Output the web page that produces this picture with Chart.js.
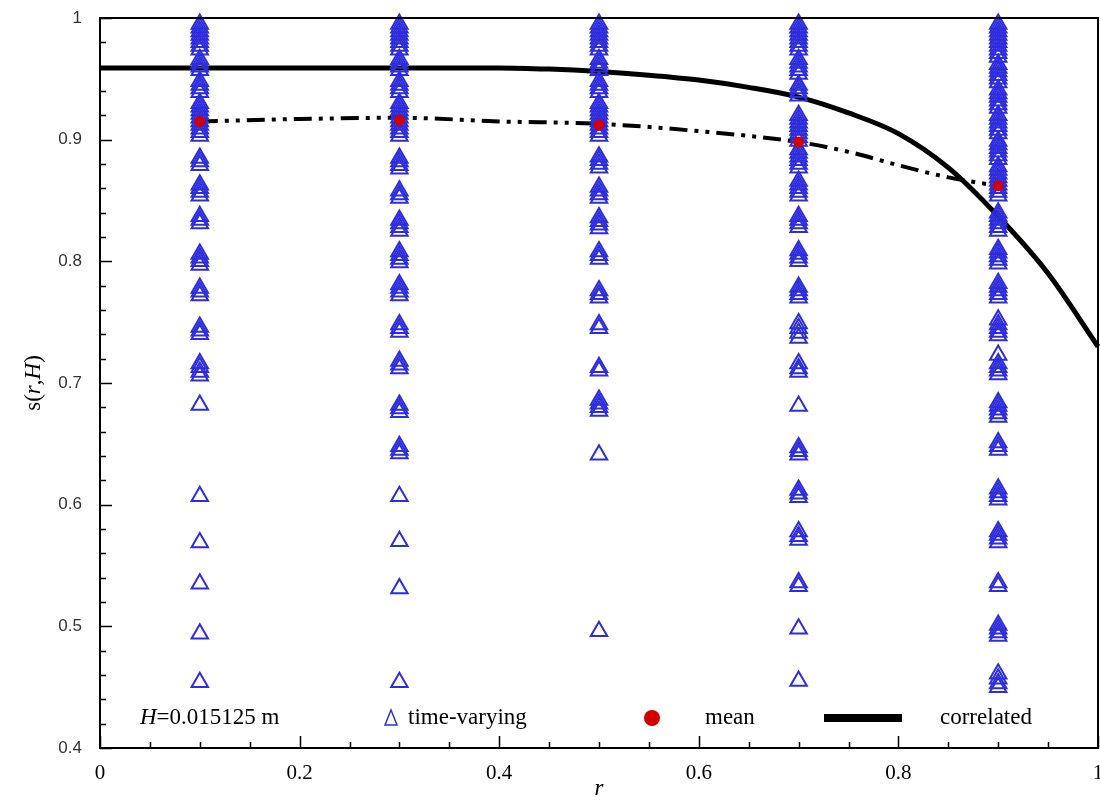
<!DOCTYPE html>
<html>
<head>
<meta charset="utf-8">
<script src="https://cdn.jsdelivr.net/npm/chart.js@4/dist/chart.umd.min.js"></script>
<style>
  html, body { margin: 0; padding: 0; background: #fff; }
  #wrap { width: 1100px; height: 800px; }
</style>
</head>
<body>
<div id="wrap"><canvas id="chart" width="1100" height="800"></canvas></div>
<script>
// radial positions where the time-varying samples were taken
const rColumns = [0.1, 0.3, 0.5, 0.7, 0.9];

// time-varying s(r,H) values, one list per column
const sAt01 = [0.995, 0.992, 0.989, 0.986, 0.983, 0.980, 0.977, 0.974, 0.966, 0.963, 0.960, 0.957,
  0.948, 0.945, 0.942, 0.939, 0.930, 0.927, 0.924, 0.921, 0.918, 0.915, 0.912, 0.909, 0.906, 0.903,
  0.885, 0.882, 0.879, 0.863, 0.860, 0.857, 0.854, 0.837, 0.834, 0.831, 0.806, 0.803, 0.800, 0.797,
  0.778, 0.775, 0.772, 0.746, 0.743, 0.740, 0.716, 0.713, 0.709, 0.706, 0.682, 0.607, 0.569, 0.535,
  0.494, 0.454];
const sAt03 = [0.995, 0.992, 0.989, 0.986, 0.983, 0.980, 0.977, 0.974, 0.966, 0.963, 0.960, 0.957,
  0.948, 0.945, 0.942, 0.939, 0.930, 0.927, 0.924, 0.921, 0.918, 0.915, 0.912, 0.909, 0.906, 0.903,
  0.885, 0.882, 0.879, 0.876, 0.858, 0.855, 0.852, 0.834, 0.831, 0.828, 0.825, 0.808, 0.805, 0.802,
  0.799, 0.781, 0.778, 0.775, 0.772, 0.748, 0.745, 0.742, 0.718, 0.715, 0.712, 0.682, 0.679, 0.676,
  0.648, 0.645, 0.642, 0.607, 0.570, 0.531, 0.454];
const sAt05 = [0.995, 0.992, 0.989, 0.986, 0.983, 0.980, 0.977, 0.974, 0.966, 0.963, 0.960, 0.957,
  0.948, 0.945, 0.942, 0.939, 0.930, 0.927, 0.924, 0.921, 0.918, 0.915, 0.912, 0.909, 0.906, 0.903,
  0.886, 0.883, 0.880, 0.877, 0.861, 0.858, 0.855, 0.852, 0.836, 0.833, 0.830, 0.827, 0.808, 0.805,
  0.802, 0.776, 0.773, 0.770, 0.748, 0.745, 0.713, 0.710, 0.686, 0.683, 0.680, 0.677, 0.641, 0.496];
const sAt07 = [0.995, 0.992, 0.989, 0.986, 0.983, 0.980, 0.977, 0.974, 0.966, 0.963, 0.960, 0.957,
  0.954, 0.945, 0.942, 0.939, 0.936, 0.920, 0.917, 0.914, 0.911, 0.908, 0.905, 0.902, 0.899, 0.892,
  0.889, 0.886, 0.883, 0.880, 0.877, 0.866, 0.863, 0.860, 0.857, 0.854, 0.837, 0.834, 0.831, 0.828,
  0.809, 0.806, 0.803, 0.800, 0.779, 0.776, 0.773, 0.770, 0.749, 0.745, 0.741, 0.737, 0.716, 0.712,
  0.709, 0.681, 0.647, 0.644, 0.641, 0.612, 0.609, 0.606, 0.578, 0.574, 0.571, 0.536, 0.533, 0.498,
  0.455];
const sAt09 = [0.995, 0.992, 0.989, 0.986, 0.983, 0.980, 0.977, 0.974, 0.971, 0.968, 0.962, 0.959,
  0.956, 0.953, 0.950, 0.947, 0.941, 0.938, 0.935, 0.932, 0.929, 0.926, 0.920, 0.917, 0.914, 0.911,
  0.908, 0.905, 0.899, 0.896, 0.893, 0.890, 0.887, 0.884, 0.878, 0.875, 0.872, 0.869, 0.866, 0.863,
  0.860, 0.857, 0.854, 0.840, 0.837, 0.834, 0.831, 0.828, 0.825, 0.810, 0.807, 0.804, 0.801, 0.798,
  0.782, 0.779, 0.776, 0.773, 0.770, 0.752, 0.748, 0.745, 0.742, 0.739, 0.723, 0.716, 0.713, 0.710,
  0.707, 0.684, 0.681, 0.678, 0.675, 0.672, 0.651, 0.648, 0.645, 0.613, 0.610, 0.607, 0.604, 0.578,
  0.575, 0.572, 0.569, 0.536, 0.533, 0.501, 0.498, 0.495, 0.492, 0.461, 0.457, 0.453, 0.450];
const timeVarying = [sAt01, sAt03, sAt05, sAt07, sAt09];

// time-averaged values at each column
const meanS = [0.915, 0.916, 0.912, 0.898, 0.862];

// dash-dot curve through the means
const meanCurveR = [0.1, 0.2, 0.3, 0.4, 0.5, 0.6, 0.7, 0.75, 0.8, 0.85, 0.9];
const meanCurveS = [0.915, 0.917, 0.918, 0.915, 0.913, 0.907, 0.898, 0.890, 0.879, 0.869, 0.862];

// correlated profile
const corrR = [0, 0.05, 0.1, 0.15, 0.2, 0.25, 0.3, 0.35, 0.4, 0.45, 0.5, 0.55, 0.6, 0.65, 0.7, 0.75, 0.8, 0.85, 0.9, 0.95, 1.0];
const corrS = [0.959, 0.959, 0.959, 0.959, 0.959, 0.959, 0.959, 0.959, 0.959, 0.958, 0.956, 0.953, 0.949,
  0.943, 0.935, 0.922, 0.905, 0.877, 0.837, 0.790, 0.730];

// axis ticks
const xTicks = [0, 0.2, 0.4, 0.6, 0.8, 1];
const xTickLabels = ['0', '0.2', '0.4', '0.6', '0.8', '1'];
const yTicks = [0.4, 0.5, 0.6, 0.7, 0.8, 0.9, 1];
const yTickLabels = ['0.4', '0.5', '0.6', '0.7', '0.8', '0.9', '1'];

const BLUE = 'rgb(45, 45, 220)';
const RED = 'rgb(210, 0, 0)';
const PLOT_RIGHT = 1098;

const tvPoints = [];
timeVarying.forEach((col, i) => col.forEach(v => tvPoints.push({ x: rColumns[i], y: v })));

// stretch the plot area to the right edge (Chart.js keeps room for the "1" label)
const stretchPlugin = {
  id: 'stretch',
  afterLayout(chart) {
    const x = chart.scales.x;
    x.right = PLOT_RIGHT;
    x.width = x.right - x.left;
    x.configure();
    chart.chartArea.right = PLOT_RIGHT;
    chart.chartArea.width = PLOT_RIGHT - chart.chartArea.left;
  }
};

// inward ticks + frame, like the original plotting package
const framePlugin = {
  id: 'frame',
  afterDatasetsDraw(chart) {
    const { ctx, chartArea: a, scales: { x, y } } = chart;
    ctx.save();
    ctx.strokeStyle = '#000';
    ctx.lineWidth = 1.5;
    ctx.beginPath();
    for (let v = 0; v <= 1.0001; v += 0.05) {
      const px = Math.round(x.getPixelForValue(v)) + 0.5;
      const major = Math.abs(v / 0.2 - Math.round(v / 0.2)) < 1e-6;
      ctx.moveTo(px, a.bottom);
      ctx.lineTo(px, a.bottom - (major ? 12 : 6));
    }
    for (let v = 0.4; v <= 1.0001; v += 0.02) {
      const py = Math.round(y.getPixelForValue(v)) + 0.5;
      const major = Math.abs(v / 0.1 - Math.round(v / 0.1)) < 1e-6;
      ctx.moveTo(a.left, py);
      ctx.lineTo(a.left + (major ? 12 : 6), py);
    }
    ctx.stroke();
    ctx.lineWidth = 2;
    ctx.strokeRect(a.left, a.top, a.right - a.left, a.bottom - a.top);
    ctx.restore();
  }
};

// axis titles and the legend row inside the plot
const labelsPlugin = {
  id: 'labels',
  afterDraw(chart) {
    const { ctx, chartArea: a } = chart;
    ctx.save();
    ctx.fillStyle = '#000';
    ctx.textBaseline = 'middle';

    // y title s(r,H)
    ctx.save();
    ctx.translate(34, (a.top + a.bottom) / 2);
    ctx.rotate(-Math.PI / 2);
    ctx.textAlign = 'left';
    const parts = [['s(', ''], ['r', 'italic '], [',', ''], ['H', 'italic '], [')', '']];
    let w = 0;
    parts.forEach(p => { ctx.font = p[1] + '23px "Liberation Serif"'; w += ctx.measureText(p[0]).width; });
    let cx = -w / 2;
    parts.forEach(p => {
      ctx.font = p[1] + '23px "Liberation Serif"';
      ctx.fillText(p[0], cx, 0);
      cx += ctx.measureText(p[0]).width;
    });
    ctx.restore();

    // x title r
    ctx.textAlign = 'center';
    ctx.font = 'italic 23px "Liberation Serif"';
    ctx.fillText('r', (a.left + a.right) / 2, 789);

    // legend row
    const ly = a.bottom - 30;
    const lf = '23px "Liberation Serif"';
    ctx.textAlign = 'left';
    ctx.font = 'italic ' + lf;
    ctx.fillText('H', 140, ly);
    const hw = ctx.measureText('H').width;
    ctx.font = lf;
    ctx.fillText('=0.015125 m', 140 + hw, ly);

    // triangle
    ctx.strokeStyle = BLUE;
    ctx.lineWidth = 1.5;
    ctx.beginPath();
    ctx.moveTo(391, ly - 8);
    ctx.lineTo(397, ly + 7);
    ctx.lineTo(385, ly + 7);
    ctx.closePath();
    ctx.stroke();
    ctx.fillText('time-varying', 408, ly);

    // mean dot
    ctx.fillStyle = RED;
    ctx.beginPath();
    ctx.arc(652, ly, 8, 0, Math.PI * 2);
    ctx.fill();
    ctx.fillStyle = '#000';
    ctx.fillText('mean', 705, ly);

    // correlated line
    ctx.fillRect(824, ly - 4, 78, 8);
    ctx.fillText('correlated', 940, ly);
    ctx.restore();
  }
};

const ctx = document.getElementById('chart').getContext('2d');
new Chart(ctx, {
  type: 'scatter',
  data: {
    datasets: [
      {
        label: 'mean',
        data: rColumns.map((r, i) => ({ x: r, y: meanS[i] })),
        pointStyle: 'circle',
        radius: 5,
        backgroundColor: RED,
        borderColor: RED,
        showLine: false,
        order: 0
      },
      {
        label: 'time-varying',
        data: tvPoints,
        pointStyle: 'triangle',
        radius: 9.5,
        borderColor: BLUE,
        backgroundColor: 'rgba(0,0,0,0)',
        borderWidth: 2,
        showLine: false,
        clip: false,
        order: 1
      },
      {
        label: 'mean curve',
        data: meanCurveR.map((r, i) => ({ x: r, y: meanCurveS[i] })),
        showLine: true,
        borderColor: '#000',
        borderWidth: 4,
        borderDash: [18, 7, 4, 7, 4, 7],
        cubicInterpolationMode: 'monotone',
        pointRadius: 0,
        order: 2
      },
      {
        label: 'correlated',
        data: corrR.map((r, i) => ({ x: r, y: corrS[i] })),
        showLine: true,
        borderColor: '#000',
        borderWidth: 5,
        cubicInterpolationMode: 'monotone',
        pointRadius: 0,
        clip: 4,
        order: 3
      }
    ]
  },
  options: {
    responsive: false,
    animation: false,
    layout: { padding: { top: 18, right: 2, left: 0, bottom: 0 } },
    plugins: {
      legend: { display: false },
      tooltip: { enabled: false }
    },
    scales: {
      x: {
        type: 'linear',
        min: 0,
        max: 1,
        afterBuildTicks(scale) { scale.ticks = xTicks.map(v => ({ value: v })); },
        afterFit(scale) {
          scale.height = 52;
          scale.paddingLeft = 0; scale.paddingRight = 0;
          scale.paddingTop = 0; scale.paddingBottom = 0;
        },
        grid: { display: false, drawTicks: false },
        border: { display: false },
        ticks: {
          padding: 13,
          color: '#000',
          font: { family: '"Liberation Serif"', size: 21 },
          callback: (v, i) => xTickLabels[i]
        }
      },
      y: {
        type: 'linear',
        min: 0.4,
        max: 1,
        afterBuildTicks(scale) { scale.ticks = yTicks.map(v => ({ value: v })); },
        afterFit(scale) {
          scale.width = 100;
          scale.paddingLeft = 0; scale.paddingRight = 0;
          scale.paddingTop = 0; scale.paddingBottom = 0;
        },
        grid: { display: false, drawTicks: false },
        border: { display: false },
        ticks: {
          padding: 18,
          color: '#333',
          font: { family: '"Liberation Sans"', size: 17 },
          callback: (v, i) => yTickLabels[i]
        }
      }
    }
  },
  plugins: [stretchPlugin, framePlugin, labelsPlugin]
});
</script>
</body>
</html>
